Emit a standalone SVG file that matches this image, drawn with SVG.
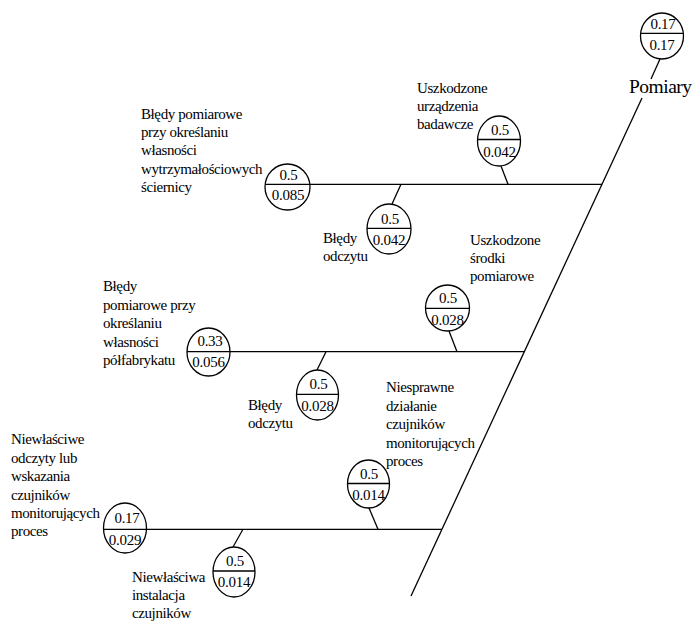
<svg xmlns="http://www.w3.org/2000/svg" width="695" height="624" viewBox="0 0 695 624">
  <style>
    .bg { fill: #ffffff; }
    .node ellipse { fill: none; stroke: #000; stroke-width: 1.3; }
    .node line { stroke: #000; stroke-width: 1.3; }
    text { font-family: 'Liberation Serif', 'DejaVu Serif', serif; fill: #000; }
    .num { font-size: 15px; text-anchor: middle; letter-spacing: -0.3px; }
    .lbl { font-size: 15px; letter-spacing: -0.4px; }
    .title { font-size: 19.5px; letter-spacing: -0.5px; }
    .conn line { stroke: #000; stroke-width: 1.3; }
  </style>
  <rect class="bg" x="0" y="0" width="695" height="624"/>

  <!-- spine, branches and ribs -->
  <g id="connectors" class="conn">
    <line x1="660" y1="59" x2="651" y2="79"/>
    <line x1="642" y1="98" x2="411" y2="596"/>
    <line x1="310" y1="184.3" x2="602" y2="184.3"/>
    <line x1="230" y1="351.7" x2="524" y2="351.7"/>
    <line x1="146.5" y1="529.3" x2="442" y2="529.3"/>
    <line x1="501" y1="166" x2="508" y2="184.3"/>
    <line x1="392" y1="204" x2="401" y2="184.3"/>
    <line x1="449" y1="331" x2="457" y2="351.7"/>
    <line x1="317" y1="370" x2="326" y2="351.7"/>
    <line x1="369" y1="508" x2="378" y2="529.3"/>
    <line x1="233" y1="547" x2="243" y2="529.3"/>
  </g>

  <!-- head -->
  <g id="pomiary" class="node">
    <ellipse cx="662" cy="36" rx="21.5" ry="23"/>
    <line x1="640.6" y1="33.3" x2="683.4" y2="33.3"/>
    <text class="num" x="663" y="28.5">0.17</text>
    <text class="num" x="662" y="50">0.17</text>
    <text class="title" x="629" y="93">Pomiary</text>
  </g>

  <!-- top branch -->
  <g id="bledy-pomiarowe-sciernicy" class="node">
    <ellipse cx="287.5" cy="187" rx="22.5" ry="23"/>
    <line x1="265.1" y1="184.3" x2="309.9" y2="184.3"/>
    <text class="num" x="288.5" y="180">0.5</text>
    <text class="num" x="288" y="200">0.085</text>
    <text class="lbl">
      <tspan x="141" y="119">Błędy pomiarowe</tspan>
      <tspan x="141" y="137.2">przy określaniu</tspan>
      <tspan x="141" y="155.4">własności</tspan>
      <tspan x="141" y="173.6">wytrzymałościowych</tspan>
      <tspan x="141" y="191.8">ściernicy</tspan>
    </text>
  </g>

  <g id="uszkodzone-urzadzenia" class="node">
    <ellipse cx="499" cy="141" rx="21.5" ry="25"/>
    <line x1="477.5" y1="139.5" x2="520.5" y2="139.5"/>
    <text class="num" x="500" y="135">0.5</text>
    <text class="num" x="499.5" y="157">0.042</text>
    <text class="lbl">
      <tspan x="417" y="93">Uszkodzone</tspan>
      <tspan x="417" y="111">urządzenia</tspan>
      <tspan x="417" y="129">badawcze</tspan>
    </text>
  </g>

  <g id="bledy-odczytu-1" class="node">
    <ellipse cx="389" cy="229" rx="22" ry="25"/>
    <line x1="367" y1="228.3" x2="411" y2="228.3"/>
    <text class="num" x="390" y="224">0.5</text>
    <text class="num" x="389" y="245">0.042</text>
    <text class="lbl">
      <tspan x="323" y="243">Błędy</tspan>
      <tspan x="323" y="261">odczytu</tspan>
    </text>
  </g>

  <!-- middle branch -->
  <g id="bledy-pomiarowe-polfabrykatu" class="node">
    <ellipse cx="208.5" cy="352" rx="21.5" ry="24"/>
    <line x1="187" y1="351.7" x2="230" y2="351.7"/>
    <text class="num" x="210" y="346">0.33</text>
    <text class="num" x="208.5" y="367">0.056</text>
    <text class="lbl">
      <tspan x="103" y="291">Błędy</tspan>
      <tspan x="103" y="309.5">pomiarowe przy</tspan>
      <tspan x="103" y="328">określaniu</tspan>
      <tspan x="103" y="346.5">własności</tspan>
      <tspan x="103" y="365">półfabrykatu</tspan>
    </text>
  </g>

  <g id="uszkodzone-srodki" class="node">
    <ellipse cx="447.5" cy="308" rx="22" ry="23"/>
    <line x1="425.5" y1="308.3" x2="469.5" y2="308.3"/>
    <text class="num" x="448" y="303">0.5</text>
    <text class="num" x="447.5" y="325">0.028</text>
    <text class="lbl">
      <tspan x="470" y="245">Uszkodzone</tspan>
      <tspan x="470" y="263">środki</tspan>
      <tspan x="470" y="281">pomiarowe</tspan>
    </text>
  </g>

  <g id="bledy-odczytu-2" class="node">
    <ellipse cx="317.5" cy="395" rx="21" ry="25"/>
    <line x1="296.5" y1="394.3" x2="338.5" y2="394.3"/>
    <text class="num" x="318.5" y="389">0.5</text>
    <text class="num" x="317.5" y="411">0.028</text>
    <text class="lbl">
      <tspan x="248" y="410">Błędy</tspan>
      <tspan x="248" y="428">odczytu</tspan>
    </text>
  </g>

  <!-- bottom branch -->
  <g id="niewlasciwe-odczyty" class="node">
    <ellipse cx="125" cy="528" rx="21.5" ry="25"/>
    <line x1="103.5" y1="529.3" x2="146.5" y2="529.3"/>
    <text class="num" x="127" y="523">0.17</text>
    <text class="num" x="125" y="545">0.029</text>
    <text class="lbl">
      <tspan x="11" y="444">Niewłaściwe</tspan>
      <tspan x="11" y="462.5">odczyty lub</tspan>
      <tspan x="11" y="481">wskazania</tspan>
      <tspan x="11" y="499.5">czujników</tspan>
      <tspan x="11" y="518">monitorujących</tspan>
      <tspan x="11" y="536">proces</tspan>
    </text>
  </g>

  <g id="niesprawne-dzialanie" class="node">
    <ellipse cx="368.5" cy="484" rx="21" ry="24"/>
    <line x1="347.5" y1="483.5" x2="389.5" y2="483.5"/>
    <text class="num" x="369" y="479">0.5</text>
    <text class="num" x="368.5" y="500">0.014</text>
    <text class="lbl">
      <tspan x="386" y="392">Niesprawne</tspan>
      <tspan x="386" y="410.5">działanie</tspan>
      <tspan x="386" y="429">czujników</tspan>
      <tspan x="386" y="447.5">monitorujących</tspan>
      <tspan x="386" y="466">proces</tspan>
    </text>
  </g>

  <g id="niewlasciwa-instalacja" class="node">
    <ellipse cx="234" cy="572" rx="21" ry="25"/>
    <line x1="213" y1="571" x2="255" y2="571"/>
    <text class="num" x="235" y="566">0.5</text>
    <text class="num" x="234" y="587">0.014</text>
    <text class="lbl">
      <tspan x="132" y="582">Niewłaściwa</tspan>
      <tspan x="132" y="600">instalacja</tspan>
      <tspan x="132" y="618">czujników</tspan>
    </text>
  </g>
</svg>
